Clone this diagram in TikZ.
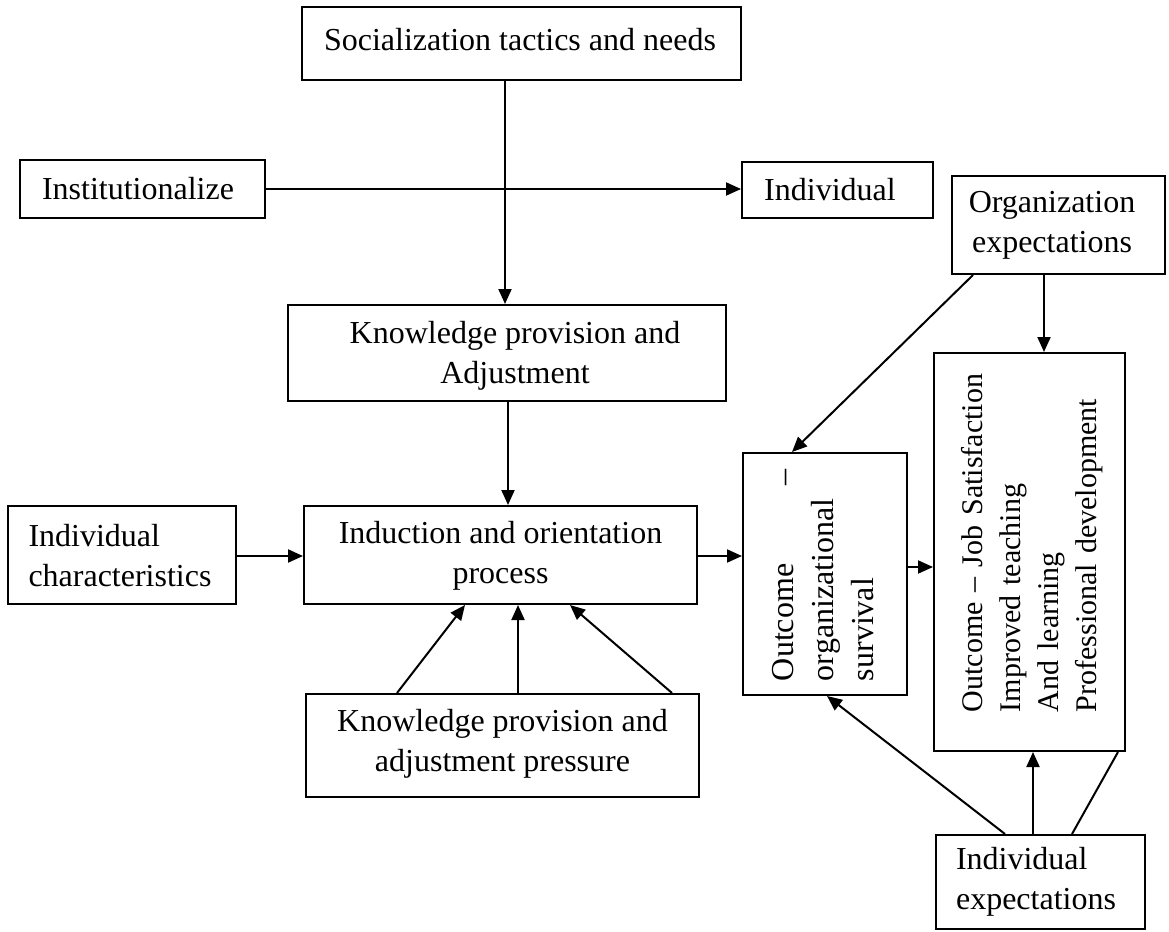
\documentclass[tikz,border=0pt]{standalone}
\usepackage{fontspec}
\setmainfont{Liberation Serif}
\usetikzlibrary{arrows.meta}
\begin{document}
\begin{tikzpicture}[x=1pt,y=-1pt,
  box/.style={draw, line width=2pt, inner sep=0pt, anchor=center},
  lbl/.style={inner sep=0pt, font=\fontsize{32}{40}\selectfont},
  arr/.style={line width=2pt, -{Triangle[length=15pt,width=13pt]}},
  ln/.style={line width=2pt}]
\useasboundingbox (0,0) rectangle (1169,931);
% boxes
\node[box, minimum width=439, minimum height=73] (soc) at (521.5,43.5) {};
\node[lbl] (soct) at (520,40) {Socialization tactics and needs};
\node[box, minimum width=245, minimum height=58] (inst) at (142.5,189) {};
\node[lbl] (instt) at (138,189) {Institutionalize};
\node[box, minimum width=191, minimum height=56] (indiv) at (837.5,190) {};
\node[lbl] (indivt) at (830,190) {Individual};
\node[box, minimum width=213, minimum height=98] (orgexp) at (1058.5,225) {};
\node[lbl, align=center] (orgexpt) at (1052,225) {Organization\\expectations};
\node[box, minimum width=438, minimum height=96] (know) at (507,353) {};
\node[lbl, align=center] (knowt) at (515,356) {Knowledge provision and\\Adjustment};
\node[box, minimum width=228, minimum height=98] (ichar) at (122,555) {};
\node[lbl, align=left] (ichart) at (120,556) {Individual\\characteristics};
\node[box, minimum width=393, minimum height=98] (induct) at (500.5,555) {};
\node[lbl, align=center] (inductt) at (500.5,556) {Induction and orientation\\process};
\node[box, minimum width=393, minimum height=103] (press) at (502.5,745.5) {};
\node[lbl, align=center] (presst) at (502.5,744) {Knowledge provision and\\adjustment pressure};
\node[box, minimum width=164, minimum height=242] (surv) at (825,574) {};
\node[lbl, rotate=90, text width=212, align=left] (survt) at (823.5,575)
  {Outcome\hfill --\\organizational\\survival};
\node[box, minimum width=191, minimum height=398] (job) at (1029.5,552) {};
\node[lbl, rotate=90, text width=400, align=left, font=\fontsize{30}{38}\selectfont] (jobt) at (1032,512)
  {Outcome -- Job Satisfaction\\Improved teaching\\And learning\\Professional development};
\node[box, minimum width=209, minimum height=94] (iexp) at (1040.5,882) {};
\node[lbl, align=left] (iexpt) at (1036,882) {Individual\\expectations};
% connectors
\draw[arr] (soc.south -| 505,0) -- (know.north -| 505,0);
\draw[arr] (inst.east) -- (indiv.west |- inst.east);
\draw[arr] (know.south -| 508,0) -- (induct.north -| 508,0);
\draw[arr] (ichar.east |- 0,556) -- (induct.west |- 0,556);
\draw[arr] (press.north -| 397,0) -- (induct.south -| 465,0);
\draw[arr] (press.north -| 518,0) -- (induct.south -| 518,0);
\draw[arr] (press.north -| 672,0) -- (induct.south -| 570,0);
\draw[arr] (induct.east |- 0,556) -- (surv.west |- 0,556);
\draw[arr] (surv.east |- 0,567) -- (job.west |- 0,567);
\draw[arr] (orgexp.south -| 973,0) -- (surv.north -| 792,0);
\draw[arr] (orgexp.south -| 1044,0) -- (job.north -| 1044,0);
\draw[arr] (iexp.north -| 1005,0) -- (surv.south -| 827,0);
\draw[arr] (iexp.north -| 1033,0) -- (job.south -| 1033,0);
\draw[ln] (iexp.north -| 1072,0) -- (job.south -| 1118,0);
\end{tikzpicture}
\end{document}
